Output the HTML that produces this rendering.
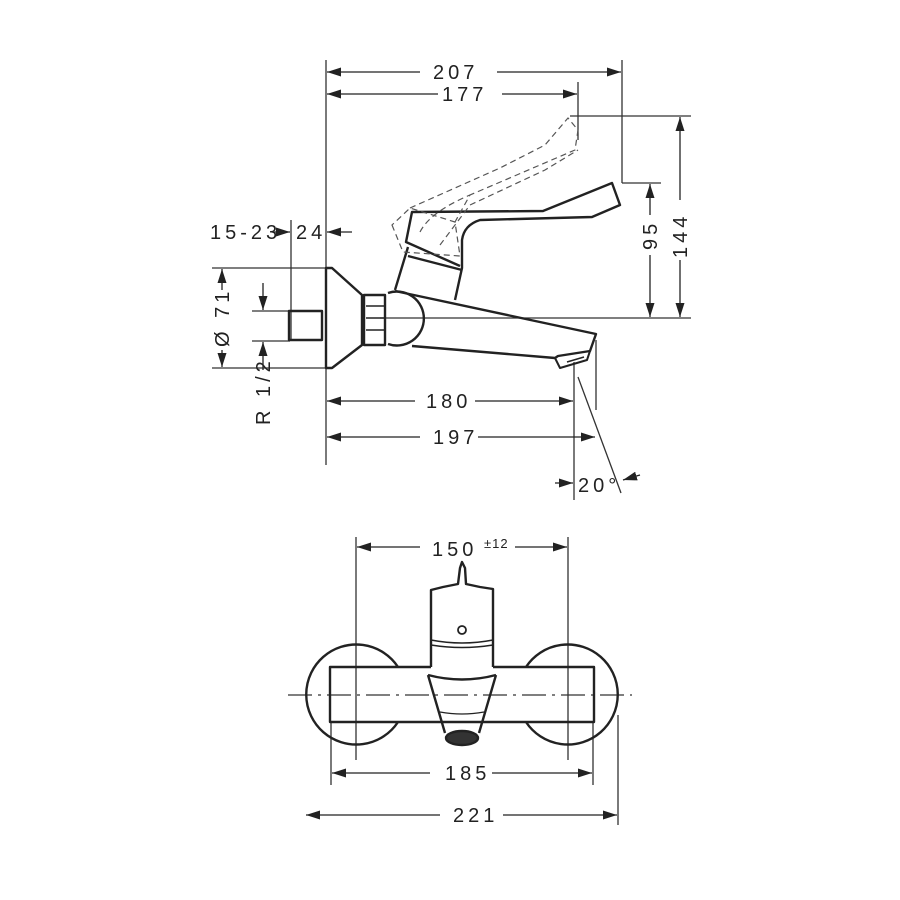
<!DOCTYPE html>
<html><head><style>html,body{margin:0;padding:0;background:#fff}svg{display:block}
text{font-family:"Liberation Sans",sans-serif;font-size:20px;fill:#222;letter-spacing:4px}</style></head>
<body>
<svg width="900" height="900" viewBox="0 0 900 900" xmlns="http://www.w3.org/2000/svg">
<defs>
<marker id="a" viewBox="0 0 14 9" refX="14" refY="4.5" markerWidth="14" markerHeight="9" markerUnits="userSpaceOnUse" orient="auto-start-reverse"><path d="M0,0L14,4.5L0,9z" fill="#222"/></marker>
</defs>
<g stroke="#333" stroke-width="1.3" fill="none">
<line x1="326" y1="60" x2="326" y2="465"/>
<line x1="622" y1="60" x2="622" y2="183"/>
<line x1="578" y1="82" x2="578" y2="140"/>
<line x1="570" y1="116" x2="691" y2="116"/>
<line x1="380" y1="318" x2="691" y2="318"/>
<line x1="622" y1="183" x2="661" y2="183"/>
<line x1="291" y1="220" x2="291" y2="340"/>
<line x1="212" y1="268" x2="330" y2="268"/>
<line x1="212" y1="368" x2="330" y2="368"/>
<line x1="252" y1="311" x2="290" y2="311"/>
<line x1="252" y1="341" x2="290" y2="341"/>
<line x1="574" y1="362" x2="574" y2="500"/>
<line x1="596" y1="340" x2="596" y2="410"/>
<line x1="578" y1="377" x2="621" y2="493"/>
</g>
<g stroke="#222" stroke-width="1.3" fill="none" marker-end="url(#a)">
<line x1="420" y1="72" x2="327" y2="72"/>
<line x1="497" y1="72" x2="621" y2="72"/>
<line x1="438" y1="94" x2="327" y2="94"/>
<line x1="502" y1="94" x2="577" y2="94"/>
<line x1="680" y1="200" x2="680" y2="117"/>
<line x1="680" y1="260" x2="680" y2="317"/>
<line x1="650" y1="215" x2="650" y2="184"/>
<line x1="650" y1="255" x2="650" y2="317"/>
<line x1="272" y1="232" x2="290" y2="232"/>
<line x1="352" y1="232" x2="327" y2="232"/>
<line x1="222" y1="290" x2="222" y2="269"/>
<line x1="222" y1="350" x2="222" y2="367"/>
<line x1="263" y1="283" x2="263" y2="310"/>
<line x1="263" y1="370" x2="263" y2="342"/>
<line x1="415" y1="401" x2="327" y2="401"/>
<line x1="475" y1="401" x2="573" y2="401"/>
<line x1="420" y1="437" x2="327" y2="437"/>
<line x1="478" y1="437" x2="595" y2="437"/>
<line x1="555" y1="483" x2="573" y2="483"/>
<line x1="640" y1="475" x2="623" y2="480"/>
</g>
<g>
<text x="433" y="79">207</text>
<text x="442" y="101">177</text>
<text x="210" y="239" letter-spacing="2">15-23</text>
<text x="296" y="239">24</text>
<text x="426" y="408">180</text>
<text x="433" y="444">197</text>
<text x="578" y="492" letter-spacing="1">20°</text>
<text transform="translate(657,250) rotate(-90)">95</text>
<text transform="translate(687,258) rotate(-90)">144</text>
<text transform="translate(229,347) rotate(-90)">Ø 71</text>
<text transform="translate(270,425) rotate(-90)">R 1/2</text>
</g>
<g stroke="#222" stroke-width="2.4" fill="none" stroke-linejoin="round">
<path d="M326,268 L332,268 L362,295 L362,345 L332,368 L326,368 Z"/>
<rect x="289" y="311" width="33" height="29"/>
<rect x="364" y="295" width="21" height="50"/>
<path d="M366,306H384M366,318H384M366,330H384" stroke-width="1.5"/>
<path d="M388,293 A27,27 0 1 1 388,344"/>
<path d="M395,291 L596,334 L590,351 L558,356 L555,358 L412,346"/>
<path d="M555,358 L560,368 L587,360 L590,351" stroke-width="2"/>
<path d="M567,362 L584,357" stroke-width="1.5"/>
<path d="M395,290 L408,247 M455,300 L462,268 L462,240 Q464,225 480,220 L592,217 L620,205 L612,183 L543,211 L412,212 L406,242 L460,266 M408,256 L462,270"/>
</g>
<g stroke="#555" stroke-width="1.2" fill="none" stroke-dasharray="6,4">
<path d="M392,225 L403,252 L460,256 L455,222 L410,208 Z"/>
<path d="M410,208 L500,168 L545,145 L568,118 L578,130 L575,150 L540,165 L470,195 L455,222"/>
<path d="M420,232 Q430,212 470,195 M440,245 L470,205 L545,170 L578,150"/>
</g>
<g stroke="#333" stroke-width="1.3" fill="none">
<line x1="356" y1="537" x2="356" y2="760"/>
<line x1="568" y1="537" x2="568" y2="760"/>
<line x1="331" y1="722" x2="331" y2="785"/>
<line x1="593" y1="722" x2="593" y2="785"/>
<line x1="618" y1="715" x2="618" y2="825"/>
<line x1="288" y1="695" x2="632" y2="695" stroke-dasharray="24,6,3,6"/>
</g>
<g stroke="#222" stroke-width="1.3" fill="none" marker-end="url(#a)">
<line x1="420" y1="547" x2="357" y2="547"/>
<line x1="515" y1="547" x2="567" y2="547"/>
<line x1="430" y1="773" x2="332" y2="773"/>
<line x1="492" y1="773" x2="592" y2="773"/>
<line x1="440" y1="815" x2="306" y2="815"/>
<line x1="503" y1="815" x2="617" y2="815"/>
</g>
<text x="432" y="556">150</text>
<text x="484" y="548" style="font-size:13px;letter-spacing:1px">±12</text>
<text x="445" y="780">185</text>
<text x="453" y="822">221</text>
<g stroke="#222" stroke-width="2.4" fill="none" stroke-linejoin="round">
<path d="M398,667 A50,50 0 1 0 398,722"/>
<path d="M526,667 A50,50 0 1 1 526,722"/>
<path d="M431,667 H330 V722 H594 V667 H493"/>
<path d="M431,667 V590 L443,587 L458,584 L460,568 L462,562 L465,568 L466,584 L480,587 L493,589 V667"/>
<path d="M431,640 Q462,646 493,640 M431,645 Q462,650 493,645" stroke-width="1.5"/>
<path d="M428,675 Q462,684 496,675 M428,675 L445,733 M496,675 L479,733"/>
<path d="M440,712 Q462,716 484,712" stroke-width="1.2"/>
<ellipse cx="462" cy="738" rx="16" ry="7" fill="#333"/>
<circle cx="462" cy="630" r="4" stroke-width="1.8" fill="#fff"/>
</g>
</svg>
</body></html>
